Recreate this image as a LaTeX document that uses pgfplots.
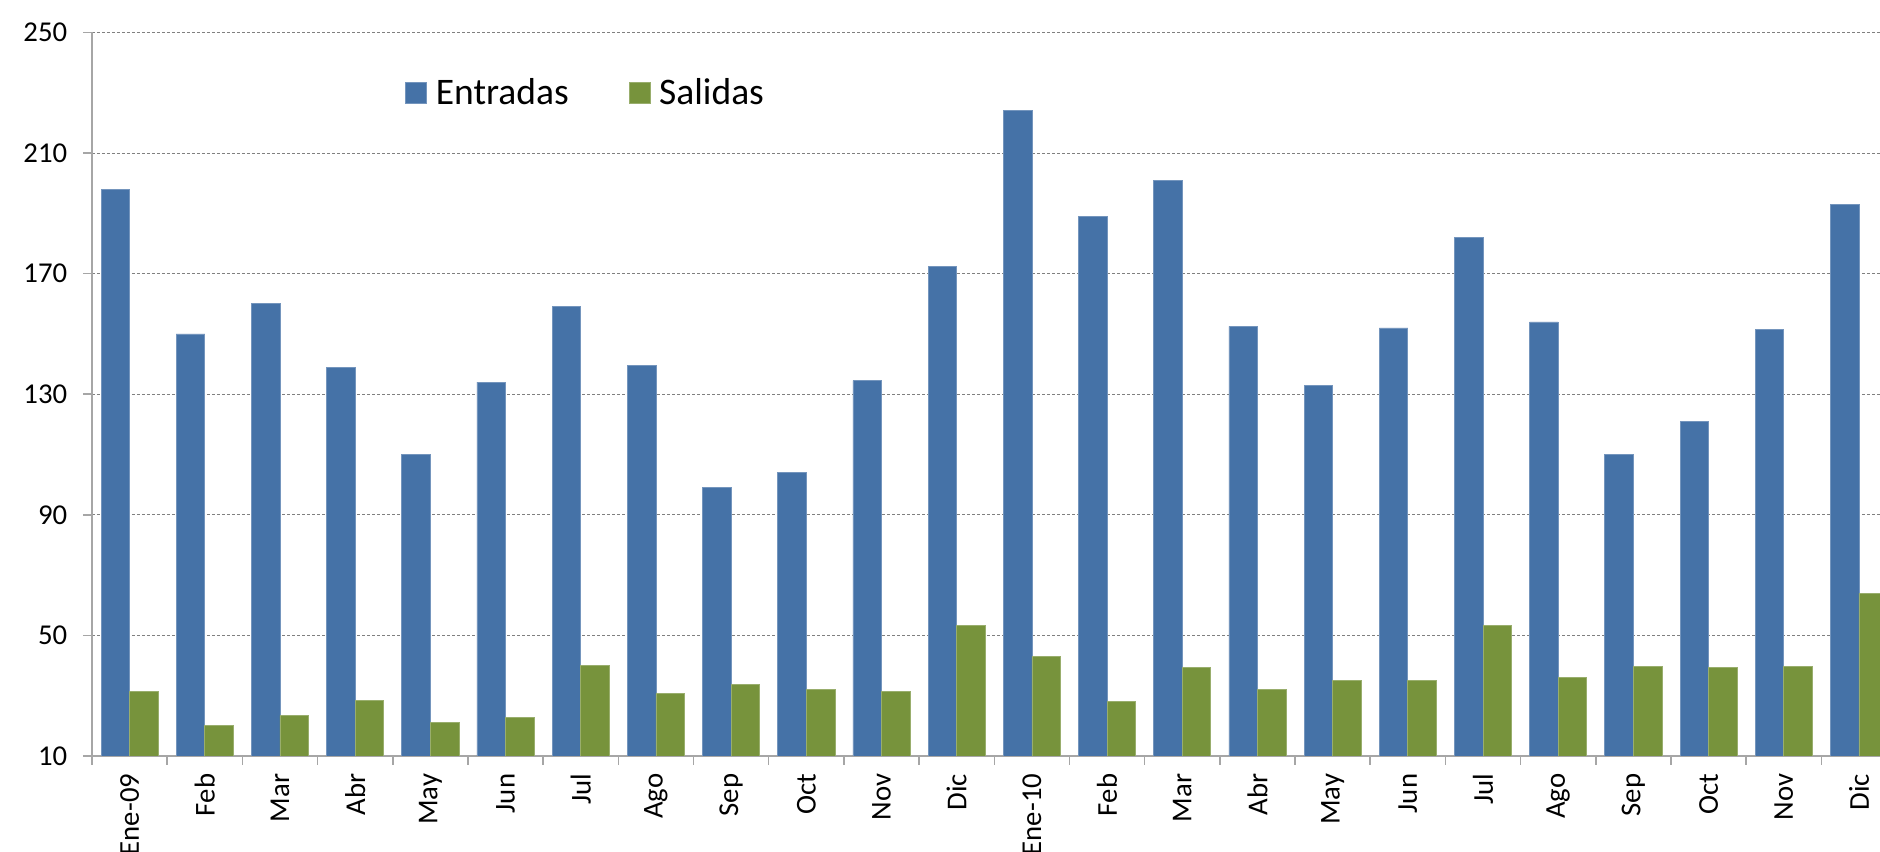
\documentclass[border=0pt]{standalone}
\usepackage{fontspec}
\setmainfont{Carlito}
\usepackage{pgfplots}
\pgfplotsset{compat=1.18}
\usetikzlibrary{calc}
\definecolor{cblue}{HTML}{4572A7}
\definecolor{cgreen}{HTML}{77933C}
\definecolor{axgray}{HTML}{A6A6A6}
\begin{document}
\begin{tikzpicture}
\begin{axis}[name=ax, width=715.2pt, height=289.4pt, scale only axis,
  xmin=-0.5, xmax=23.28, ymin=10, ymax=250,
  axis x line*=bottom, axis y line*=left,
  axis line style={draw=axgray, line width=0.8pt},
  ytick={10,50,...,250},
  ymajorgrids, major grid style={dash pattern=on 1.2pt off 0.8pt, draw=gray, line width=0.35pt},
  xtick={0,...,23},
  xticklabels={Ene-09,Feb,Mar,Abr,May,Jun,Jul,Ago,Sep,Oct,Nov,Dic,Ene-10,Feb,Mar,Abr,May,Jun,Jul,Ago,Sep,Oct,Nov,Dic},
  minor xtick={-0.5,0.5,...,22.5},
  tick align=outside,
  major tick length=3.6pt, minor tick length=3.6pt,
  major x tick style={draw=none},
  minor x tick style={draw=axgray, line width=0.6pt},
  ytick style={draw=axgray, line width=0.6pt},
  /pgf/number format/assume math mode=true,
  yticklabel style={font=\fontsize{11.5}{12}\selectfont, xshift=-2.8pt},
  xticklabel style={rotate=90, anchor=east, font=\fontsize{11.5}{12}\selectfont},
  legend style={at={(0.175,0.916)}, anchor=west, draw=none, fill=none, inner sep=0pt,
    font=\fontsize{15}{16}\selectfont, legend columns=2,
    /tikz/every odd column/.append style={column sep=1.5pt},
    /tikz/every even column/.append style={column sep=22pt}},
  legend image code/.code={\fill[#1] (0pt,-4.2pt) rectangle (8.4pt,4.2pt);},
]
\addplot[ybar, bar width=0.38, bar shift=-0.19, fill=cblue, draw=cblue!75!white, line width=0.3pt]
coordinates {(0,198) (1,150) (2,160) (3,139) (4,110) (5,134) (6,159) (7,139.5) (8,99) (9,104) (10,134.5) (11,172.5)
(12,224) (13,189) (14,201) (15,152.5) (16,133) (17,152) (18,182) (19,154) (20,110) (21,121) (22,151.5) (23,193)};
\addlegendentry{Entradas}
\addplot[ybar, bar width=0.38, bar shift=0.19, fill=cgreen, draw=cgreen!75!white, line width=0.3pt]
coordinates {(0,31.5) (1,20) (2,23.5) (3,28.3) (4,21) (5,22.7) (6,40) (7,30.7) (8,33.8) (9,32.2) (10,31.5) (11,53.3)
(12,43) (13,28) (14,39.4) (15,32.2) (16,35) (17,35) (18,53.3) (19,36.2) (20,39.8) (21,39.4) (22,39.8) (23,64)};
\addlegendentry{Salidas}
\end{axis}
\pgfresetboundingbox
\useasboundingbox ($(ax.south west)+(-36.8pt,-38.4pt)$) rectangle ($(ax.north east)+(0pt,13pt)$);
\end{tikzpicture}
\end{document}
